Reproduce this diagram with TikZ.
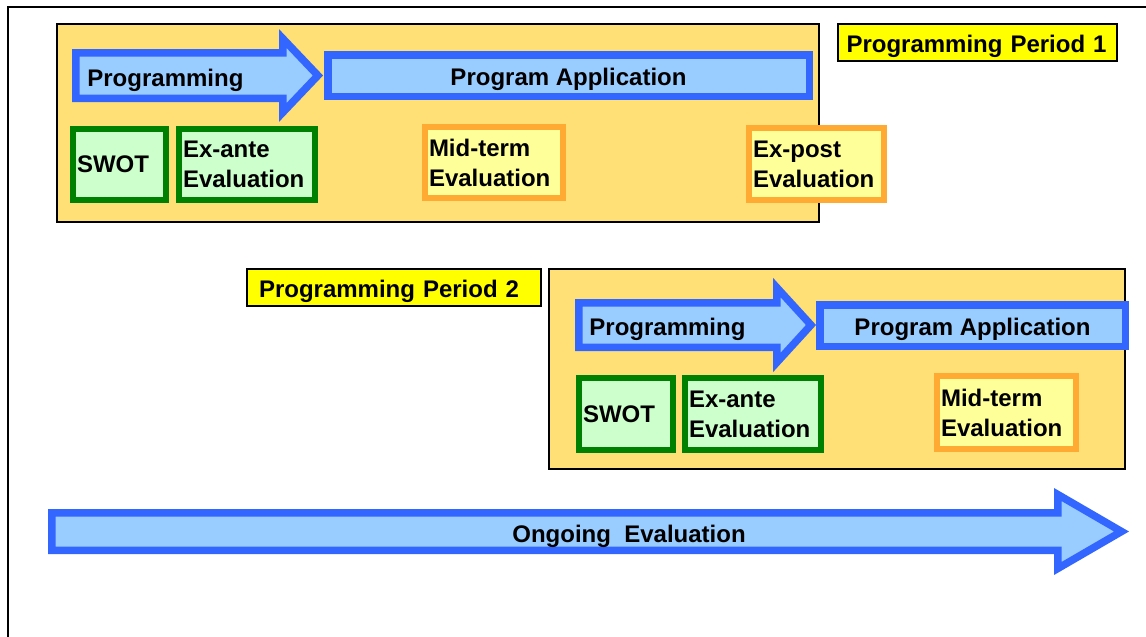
\documentclass[tikz,border=0pt]{standalone}
\usepackage{fontspec}
\setmainfont{Liberation Sans}

\definecolor{StrokeBlue}{HTML}{3366FF}
\definecolor{LightBlue}{HTML}{99CCFF}
\definecolor{PeriodYellow}{HTML}{FFE076}
\definecolor{DarkGreen}{HTML}{008000}
\definecolor{LightGreen}{HTML}{CCFFCC}
\definecolor{EvalOrange}{HTML}{FFAA33}
\definecolor{PaleYellow}{HTML}{FFFF99}
\definecolor{LabelYellow}{HTML}{FFFF00}

\tikzset{
  every node/.style={font=\fontsize{12}{15}\selectfont\bfseries},
  phase/.style={draw=StrokeBlue,fill=LightBlue,line width=3.75pt},
  txt/.style={text height=9.5pt,text depth=0pt,inner sep=0pt},
  period/.style={draw,fill=PeriodYellow,line width=0.75pt},
  greenbox/.style={draw=DarkGreen,fill=LightGreen,line width=3pt,align=left,anchor=west,inner xsep=2pt,outer sep=0pt},
  orangebox/.style={draw=EvalOrange,fill=PaleYellow,line width=3pt,align=left,anchor=west,inner xsep=2pt,outer sep=0pt},
  periodlabel/.style={draw,fill=LabelYellow,line width=0.75pt,txt,minimum height=18.5pt}
}

\begin{document}
\begin{tikzpicture}[x=0.5pt,y=-0.5pt]
\useasboundingbox (0,0) rectangle (1146,637);
\draw[line width=1pt] (7.5,6.5) rectangle (1170,670);

\draw[period] (57,24) rectangle (819,222);
\node[periodlabel,inner xsep=4.25pt,text width=131pt] (label1) at (977.5,42.5) {Programming Period 1};
\draw[phase] (75.75,52.75) -- (282.75,52.75) -- (282.75,38.5) -- (317.9,75.5) -- (282.75,112.5) -- (282.75,98.25) -- (75.75,98.25) -- cycle;
\node[txt,anchor=west] (prog1) at (87,76.5) {Programming};
\node[phase,txt,minimum width=240.75pt,minimum height=20.75pt] (apply1) at (568.5,75.5) {Program Application};
\node[greenbox,text width=42.5pt,minimum height=35.5pt] (swot1) at (73,164.5) {SWOT};
\node[greenbox,text width=64pt,minimum height=35.5pt] (exante1) at (179,164.5) {Ex-ante\\Evaluation};
\node[orangebox,text width=65pt,minimum height=35.5pt] (midterm1) at (425,162.5) {Mid-term\\Evaluation};
\node[orangebox,text width=63.5pt,minimum height=36pt] (expost1) at (749,164) {Ex-post\\Evaluation};

\node[periodlabel,inner xsep=6pt,text width=135pt] (label2) at (394,287.5) {Programming Period 2};
\draw[period] (549,269) rectangle (1125,469);
\draw[phase] (578.75,302.75) -- (776.75,302.75) -- (776.75,287.5) -- (811,325) -- (776.75,362.5) -- (776.75,347.25) -- (578.75,347.25) -- cycle;
\node[txt,anchor=west] (prog2) at (589,325.5) {Programming};
\node[phase,txt,minimum width=152.75pt,minimum height=20.75pt] (apply2) at (972.5,325.5) {Program Application};
\node[greenbox,text width=43pt,minimum height=36pt] (swot2) at (579,414) {SWOT};
\node[greenbox,text width=64pt,minimum height=36pt] (exante2) at (685,414) {Ex-ante\\Evaluation};
\node[orangebox,text width=65.5pt,minimum height=36.5pt] (midterm2) at (937,412.5) {Mid-term\\Evaluation};

\draw[phase] (51.75,512.75) -- (1057.75,512.75) -- (1057.75,494.5) -- (1121.5,531.5) -- (1057.75,568.5) -- (1057.75,550.25) -- (51.75,550.25) -- cycle;
\node[txt] (ongoing) at (629,532.5) {Ongoing\ \ Evaluation};
\end{tikzpicture}
\end{document}
